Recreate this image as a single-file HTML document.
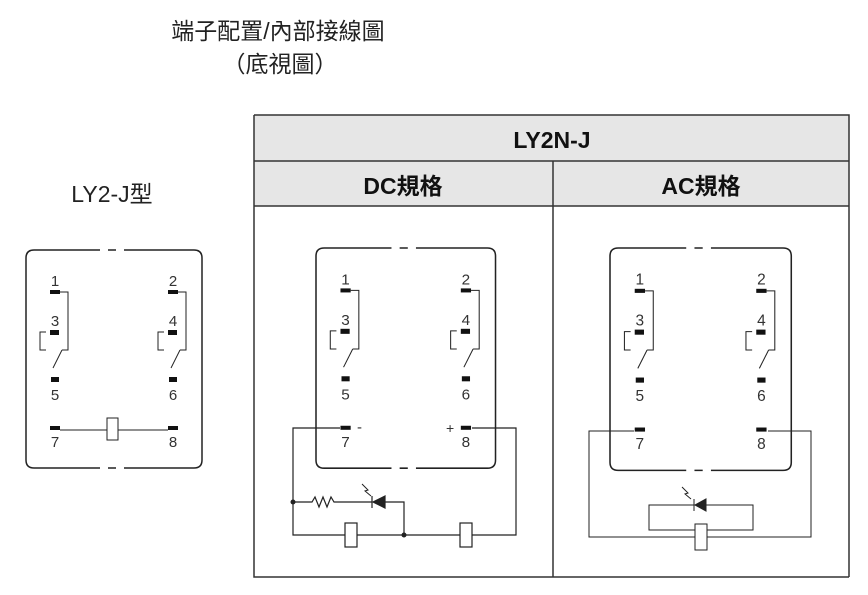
<!DOCTYPE html>
<html><head><meta charset="utf-8"><style>
body{margin:0;background:#fff;width:868px;height:595px;overflow:hidden}
svg{display:block}
text{font-family:"Liberation Sans","Noto Sans CJK TC",sans-serif}
</style></head><body>
<svg width="868" height="595" viewBox="0 0 868 595" xmlns="http://www.w3.org/2000/svg">
<defs>
<g id="relay" stroke="#222" fill="none">
  <path d="M74 0 H8 Q0 0 0 8 V210 Q0 218 8 218 H74 M98 0 H168 Q176 0 176 8 V210 Q176 218 168 218 H98 M82 0 H90 M82 218 H90" stroke-width="1.5"/>
  <g stroke-width="1">
    <path d="M34 42 H42 V100 H36"/><path d="M20 82 H14 V100 H20"/><path d="M27 118 L36 100"/>
    <path d="M152 42 H160 V100 H154"/><path d="M138 82 H132 V100 H138"/><path d="M145 118 L154 100"/>
  </g>
  <g fill="#111" stroke="none">
    <rect x="24" y="40" width="10" height="4"/><rect x="142" y="40" width="10" height="4"/>
    <rect x="24" y="80" width="9" height="5"/><rect x="142" y="80" width="9" height="5"/>
    <rect x="25" y="127" width="8" height="5"/><rect x="143" y="127" width="8" height="5"/>
    <rect x="24" y="176" width="10" height="4"/><rect x="142" y="176" width="10" height="4"/>
  </g>
  <g fill="#333" stroke="none" font-size="15" text-anchor="middle" font-family="Liberation Sans">
    <text x="29" y="36">1</text><text x="147" y="36">2</text>
    <text x="29" y="76">3</text><text x="147" y="76">4</text>
    <text x="29" y="150">5</text><text x="147" y="150">6</text>
    <text x="29" y="197">7</text><text x="147" y="197">8</text>
  </g>
</g>
</defs>
<text x="278" y="39" font-size="23" text-anchor="middle" fill="#222">端子配置/內部接線圖</text>
<text x="280" y="72" font-size="23" text-anchor="middle" fill="#222">（底視圖）</text>
<text x="112" y="202" font-size="23" text-anchor="middle" fill="#222">LY2-J型</text>

<rect x="254" y="115" width="595" height="91" fill="#e6e6e6"/>
<g stroke="#333" stroke-width="1.5" fill="none">
<path d="M254 115 H849 V577 M254 115 V577 H849 M254 161 H849 M254 206 H849 M553 161 V577"/>
</g>
<text x="552" y="148" font-size="23" font-weight="bold" text-anchor="middle" fill="#111">LY2N-J</text>
<text x="403" y="194" font-size="23" font-weight="bold" text-anchor="middle" fill="#111">DC規格</text>
<text x="701" y="194" font-size="23" font-weight="bold" text-anchor="middle" fill="#111">AC規格</text>

<use href="#relay" transform="translate(26,250)"/>
<g stroke="#222" fill="none" stroke-width="1">
<path d="M60 430 H107 M118 430 H168"/><rect x="107" y="418" width="11" height="22" fill="#fff"/>
</g>

<use href="#relay" transform="translate(316,248) scale(1.02,1.01)"/>
<g stroke="#222" fill="none" stroke-width="1.2">
<path d="M340 428 H293 V535 H516 V428 H472"/>
<path d="M293 502 H312 l3 -5 l4 10 l4 -10 l4 10 l4 -10 l3 5 H372 M385 502 H404 V535"/>
<path d="M372 496 V508"/><path d="M385 496 L373 502 L385 508 Z" fill="#222"/>
<path d="M362 484 l6 6 l-3 1 l6 5" stroke-width="1"/>
<rect x="345" y="523" width="12" height="24" fill="#fff"/><rect x="460" y="523" width="12" height="24" fill="#fff"/>
</g>
<circle cx="293" cy="502" r="2.5" fill="#222"/><circle cx="404" cy="535" r="2.5" fill="#222"/>
<text x="357" y="432" font-size="15" fill="#333">-</text><text x="446" y="433" font-size="14" fill="#333">+</text>

<use href="#relay" transform="translate(610,248) scale(1.03,1.02)"/>
<g stroke="#222" fill="none" stroke-width="1">
<path d="M634 431 H589 V537 H811 V431 H768"/>
<path d="M649 505 H753 V530 H649 Z"/>
<path d="M694 499 V511"/><path d="M706 499 L695 505 L706 511 Z" fill="#222"/>
<path d="M682 487 l6 6 l-3 1 l6 5"/>
<rect x="695" y="524" width="12" height="26" fill="#fff"/>
</g>
</svg>
</body></html>
